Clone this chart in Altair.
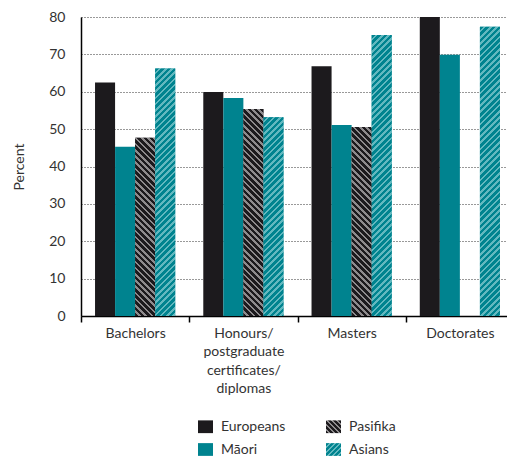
import json
import altair as alt
import pandas as pd

levels = ["Bachelors", "Honours/ postgraduate certificates/ diplomas", "Masters", "Doctorates"]
groups = ["Europeans", "Māori", "Pasifika", "Asians"]

europeans = [62.5, 59.9, 66.8, 80.0]
maori = [45.3, 58.3, 51.1, 69.9]
pasifika = [47.7, 55.4, 50.6, None]
asians = [66.2, 53.2, 75.2, 77.4]

series = {"Europeans": europeans, "Māori": maori, "Pasifika": pasifika, "Asians": asians}

rows = []
for g in groups:
    for lv, v in zip(levels, series[g]):
        if v is not None:
            rows.append({"level": lv, "group": g, "legend_group": "s:" + g, "value": v})
df = pd.DataFrame(rows)

# styling
SCALE_W, PLOT_W, PLOT_H = 433, 426, 299
PX_PER_UNIT = PLOT_H / 80.0
BAR_W = (SCALE_W / 4) / 5.4
TEAL, TEAL_LIGHT = "#00838f", "#62b8bf"
DARK, GREY = "#1c1a1d", "#8e8b8d"
FONT = "Lato"
FS = 14
TXT = "#333333"
RECT = "M-1,-0.85H1V0.85H-1Z"

hatch_style = {
    "Pasifika": (DARK, GREY, "down"),
    "Asians": (TEAL, TEAL_LIGHT, "up"),
}


def hatch_dict(w, h, base, stripe, direction, period=6.2, frac=0.42):
    L = w + h
    k = L / (w * w + h * h)
    if direction == "up":
        x1, y1, x2, y2 = 0, 0, w * k, h * k
    else:
        x1, y1, x2, y2 = 0, 1, w * k, 1 - h * k
    stops = []
    s = 0.0
    while s < L:
        a = s / L
        b = min((s + period * (1 - frac)) / L, 1)
        c = min((s + period) / L, 1)
        stops += [(a, base), (b, base), (b, stripe), (c, stripe)]
        s += period
    return {
        "gradient": "linear",
        "x1": x1, "y1": y1, "x2": round(x2, 6), "y2": round(y2, 6),
        "stops": [{"offset": round(o, 5), "color": col} for o, col in stops],
    }


def hatch(*args, **kw):
    d = hatch_dict(*args, **kw)
    return alt.LinearGradient(
        gradient="linear",
        stops=[alt.GradientStop(offset=s["offset"], color=s["color"]) for s in d["stops"]],
        x1=d["x1"], y1=d["y1"], x2=d["x2"], y2=d["y2"],
    )


x_enc = alt.X(
    "level:N", sort=levels, title=None,
    scale=alt.Scale(paddingInner=0, paddingOuter=0, range=[0, SCALE_W]),
    axis=alt.Axis(
        labelAngle=0, labelExpr="split(datum.label, ' ')", labelFont=FONT,
        labelFontSize=FS, labelColor=TXT, labelLineHeight=18.5, labelPadding=4,
        domainColor="#000000", domainWidth=1.5, tickColor="#000000", tickWidth=1.5,
        tickSize=6, tickBand="extent", grid=False,
    ),
)
xo_enc = alt.XOffset(
    "group:N", sort=groups,
    scale=alt.Scale(domain=groups, paddingInner=0, paddingOuter=0.7),
)
y_enc = alt.Y(
    "value:Q", title="Percent",
    scale=alt.Scale(domain=[0, 80], nice=False),
    axis=alt.Axis(
        values=list(range(0, 81, 10)), ticks=False, labelPadding=16,
        labelFont=FONT, labelFontSize=FS, labelColor=TXT,
        titleFont=FONT, titleFontSize=FS, titleFontWeight="normal", titleColor=TXT,
        titlePadding=22, domainColor="#000000", domainWidth=1.5,
        grid=True, gridColor="#333333", gridDash=[1, 2], gridWidth=1,
    ),
)

legend_common = dict(
    title=None, orient="none", legendX=117, legendY=402, columns=2,
    columnPadding=40, rowPadding=8, symbolSize=225, symbolStrokeWidth=0,
    symbolOpacity=1, labelFont=FONT, labelFontSize=FS, labelColor=TXT,
    labelOffset=8, padding=0,
)

color_scale = alt.Scale(domain=groups, range=[DARK, TEAL, "#4a484b", "#2b9aa3"])
color_enc = alt.Color("group:N", scale=color_scale, legend=None)

sym_w, sym_h = 15.0, 12.75
g_pas = json.dumps(hatch_dict(sym_w, sym_h, DARK, GREY, "down", period=5.0))
g_asn = json.dumps(hatch_dict(sym_w, sym_h, TEAL, TEAL_LIGHT, "up", period=5.0))
legend_fill_expr = (
    f"datum.value === 's:Pasifika' ? {g_pas} : "
    f"datum.value === 's:Asians' ? {g_asn} : "
    f"datum.value === 's:Māori' ? '{TEAL}' : '{DARK}'"
)

shape_enc = alt.Shape(
    "legend_group:N",
    scale=alt.Scale(domain=["s:" + g for g in groups], range=[RECT] * 4),
    legend=alt.Legend(
        symbolFillColor=alt.ExprRef(legend_fill_expr),
        labelExpr="slice(datum.label, 2)",
        **legend_common,
    ),
)

base = alt.Chart(df).mark_bar().encode(x=x_enc, xOffset=xo_enc, y=y_enc, color=color_enc)

layers = [base]
for g, (b, s, d) in hatch_style.items():
    for lv, v in zip(levels, series[g]):
        if v is None:
            continue
        grad = hatch(BAR_W, v * PX_PER_UNIT, b, s, d)
        layer = (
            alt.Chart(df)
            .transform_filter((alt.datum.group == g) & (alt.datum.level == lv))
            .mark_bar(fill=grad)
            .encode(x=x_enc, xOffset=xo_enc, y=y_enc)
        )
        layers.append(layer)

legend_layer = (
    alt.Chart(df)
    .transform_filter("false")
    .mark_point(filled=True)
    .encode(x=x_enc, xOffset=xo_enc, y=y_enc, color=color_enc, shape=shape_enc)
)
layers.append(legend_layer)

chart = (
    alt.layer(*layers)
    .properties(
        width=PLOT_W, height=PLOT_H,
        autosize=alt.AutoSizeParams(type="none"),
        padding={"left": 73, "top": 9, "right": 0, "bottom": 144},
    )
    .configure_view(stroke=None)
)

chart.save("out.html", embed_options={"renderer": "svg", "actions": False})
